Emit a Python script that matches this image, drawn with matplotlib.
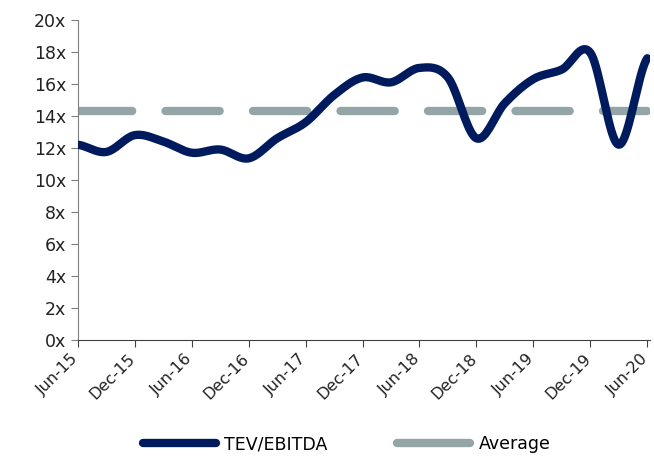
import numpy as np
import matplotlib
matplotlib.use('Agg')
import matplotlib.pyplot as plt
from matplotlib.transforms import ScaledTranslation

# quarterly TEV/EBITDA multiples, Jun-15 .. Jun-20
quarters = ['Jun-15', 'Sep-15', 'Dec-15', 'Mar-16', 'Jun-16', 'Sep-16', 'Dec-16',
            'Mar-17', 'Jun-17', 'Sep-17', 'Dec-17', 'Mar-18', 'Jun-18', 'Sep-18',
            'Dec-18', 'Mar-19', 'Jun-19', 'Sep-19', 'Dec-19', 'Mar-20', 'Jun-20']
tev_ebitda = [12.2, 11.75, 12.8, 12.4, 11.7, 11.9, 11.35, 12.6, 13.6, 15.3, 16.4,
              16.1, 17.0, 16.4, 12.6, 14.8, 16.3, 16.9, 17.95, 12.2, 17.6]
average = 14.3
tick_labels = quarters[::2]

navy = '#001A5E'
grey = '#93A5A7'


def smooth(y, n=20):
    # catmull-rom curve through the points, like Excel's smoothed line
    y = np.asarray(y, float)
    p = np.concatenate([[y[0]], y, [y[-1]]])
    xs, ys = [], []
    for i in range(len(y) - 1):
        p0, p1, p2, p3 = p[i], p[i + 1], p[i + 2], p[i + 3]
        t = np.linspace(0, 1, n, endpoint=False)
        ys.append(0.5 * (2 * p1 + (-p0 + p2) * t + (2 * p0 - 5 * p1 + 4 * p2 - p3) * t**2
                         + (-p0 + 3 * p1 - 3 * p2 + p3) * t**3))
        xs.append(i + t)
    xs.append([len(y) - 1])
    ys.append([y[-1]])
    return np.concatenate(xs), np.concatenate(ys)


plt.rcParams['font.family'] = 'DejaVu Sans'
fig = plt.figure(figsize=(6.54, 4.62), dpi=100)
ax = fig.add_axes([0.119, 0.264, 0.875, 0.693])

x = np.arange(len(quarters))
sx, sy = smooth(tev_ebitda)
ax.plot(sx, sy, color=navy, lw=6, solid_capstyle='round', label='TEV/EBITDA', zorder=3)
ax.plot(x, [average] * len(x), color=grey, lw=6, dashes=(6.5, 4.0),
        dash_capstyle='round', solid_capstyle='round', label='Average', zorder=2)

ax.set_xlim(0, 20.1)
ax.set_ylim(0, 20)
ax.set_yticks(range(0, 21, 2))
ax.set_yticklabels([f'{v}x' for v in range(0, 21, 2)])
ax.set_xticks(x[::2])
ax.set_xticklabels(tick_labels, rotation=45, ha='right', rotation_mode='anchor')

for s in ['top', 'right']:
    ax.spines[s].set_visible(False)
ax.spines['left'].set_color('#7f7f7f')
ax.spines['bottom'].set_color('#404040')
ax.tick_params(axis='both', colors='#404040', labelcolor='#222222', labelsize=12.5,
               length=5, direction='out')
ax.tick_params(axis='x', labelsize=11.5, pad=3)
ax.tick_params(axis='y', colors='#7f7f7f', labelcolor='#222222')

# nudge the rotated labels left so Jun-20 stays inside the figure
shift = ScaledTranslation(-7 / 100, 0, fig.dpi_scale_trans)
for lbl in ax.get_xticklabels():
    lbl.set_transform(lbl.get_transform() + shift)

leg = ax.legend(loc='center', bbox_to_anchor=(0.47, -0.325), ncol=2, frameon=False,
                fontsize=12.5, handlelength=4.2, columnspacing=4, handletextpad=0.5)
for h in leg.get_lines():
    h.set_linestyle('-')
    h.set_solid_capstyle('round')

fig.savefig('out.png', dpi=100)
